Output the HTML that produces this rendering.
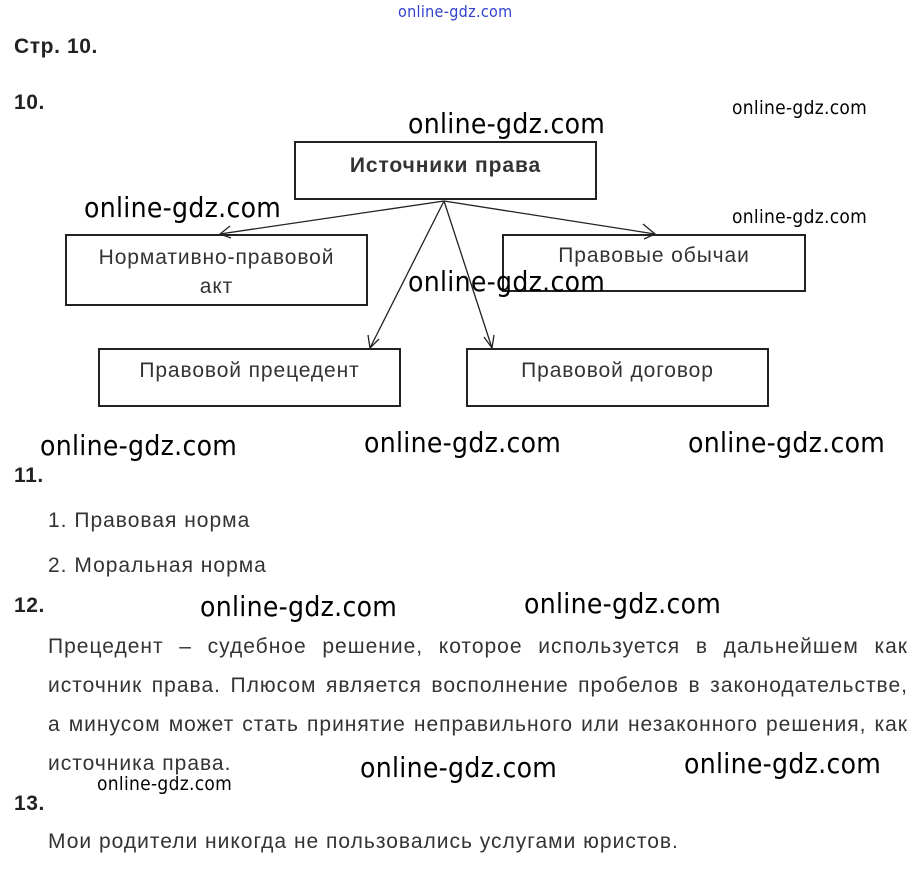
<!DOCTYPE html>
<html><head><meta charset="utf-8"><style>
body{margin:0;width:920px;height:869px;background:#fff;position:relative;overflow:hidden;font-family:"Liberation Sans",sans-serif;color:#222}
.a{position:absolute;white-space:nowrap}
.b{position:absolute;border:2px solid #222;box-sizing:border-box;text-align:center;font-size:21px;letter-spacing:0.9px;color:#333}
.w{position:absolute;white-space:nowrap;font-family:"DejaVu Sans Condensed","DejaVu Sans",sans-serif;color:#000;letter-spacing:0.3px}
.L{font-size:28px}
.S{font-size:19px}
.h{font-weight:bold;font-size:21px;letter-spacing:0.6px}
.t{font-size:21px;letter-spacing:1px;color:#333}
</style></head><body>
<div class="w" style="left:398px;top:2px;font-size:16px;color:#3340d0">online-gdz.com</div>
<div class="a h" style="left:14px;top:35px">Стр. 10.</div>
<div class="a h" style="left:14px;top:91px">10.</div>
<div class="w S" style="left:732px;top:97px">online-gdz.com</div>
<div class="w L" style="left:408px;top:107px">online-gdz.com</div>
<div class="b" style="left:294px;top:141px;width:303px;height:59px;padding-top:11px;font-weight:bold">Источники права</div>
<div class="b" style="left:65px;top:234px;width:303px;height:72px;padding-top:7px;line-height:29px">Нормативно-правовой<br>акт</div>
<div class="b" style="left:502px;top:234px;width:304px;height:58px;padding-top:8px">Правовые обычаи</div>
<div class="b" style="left:98px;top:348px;width:303px;height:59px;padding-top:9px">Правовой прецедент</div>
<div class="b" style="left:466px;top:348px;width:303px;height:59px;padding-top:9px">Правовой договор</div>
<svg style="position:absolute;left:0;top:0" width="920" height="869"><g stroke="#222" stroke-width="1.3" fill="none">
<line x1="444" y1="201" x2="220" y2="234"/><polyline points="230,226 220,234 231,238"/>
<line x1="444" y1="201" x2="655" y2="234"/><polyline points="643,224 655,234 644,239"/>
<line x1="444" y1="201" x2="370" y2="348"/><polyline points="368,335 370,348 379,339"/>
<line x1="444" y1="201" x2="492" y2="348"/><polyline points="484,337 492,348 494,335"/>
</g></svg>
<div class="w L" style="left:84px;top:191px">online-gdz.com</div>
<div class="w S" style="left:732px;top:206px">online-gdz.com</div>
<div class="w L" style="left:408px;top:265px">online-gdz.com</div>
<div class="w L" style="left:40px;top:429px">online-gdz.com</div>
<div class="w L" style="left:364px;top:426px">online-gdz.com</div>
<div class="w L" style="left:688px;top:426px">online-gdz.com</div>
<div class="a h" style="left:14px;top:464px">11.</div>
<div class="a t" style="left:48px;top:509px">1. Правовая норма</div>
<div class="a t" style="left:48px;top:554px">2. Моральная норма</div>
<div class="a h" style="left:14px;top:594px">12.</div>
<div class="w L" style="left:200px;top:590px">online-gdz.com</div>
<div class="w L" style="left:524px;top:587px">online-gdz.com</div>
<div class="a t" style="left:48px;top:627px;width:860px;line-height:39px;white-space:normal;text-align:justify">Прецедент – судебное решение, которое используется в дальнейшем как источник права. Плюсом является восполнение пробелов в законодательстве, а минусом может стать принятие неправильного или незаконного решения, как источника права.</div>
<div class="w L" style="left:360px;top:751px">online-gdz.com</div>
<div class="w L" style="left:684px;top:747px">online-gdz.com</div>
<div class="w S" style="left:97px;top:773px">online-gdz.com</div>
<div class="a h" style="left:14px;top:792px">13.</div>
<div class="a t" style="left:48px;top:830px">Мои родители никогда не пользовались услугами юристов.</div>
</body></html>
